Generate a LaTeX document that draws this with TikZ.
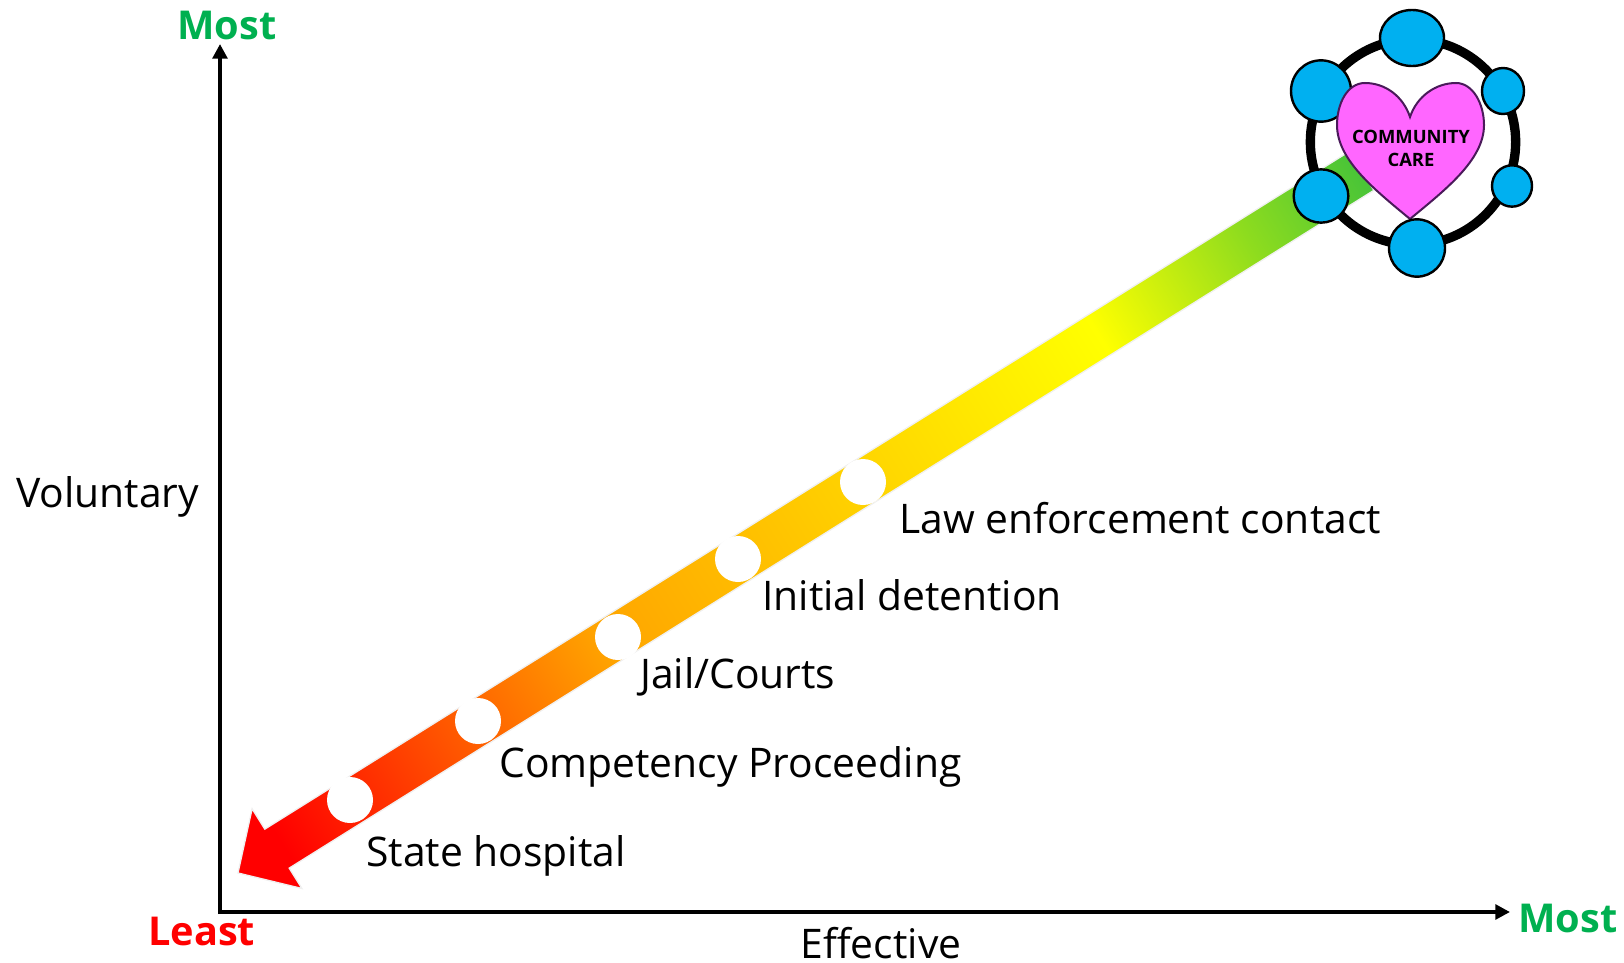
\documentclass[tikz,border=0pt]{standalone}
\usepackage{fontspec}
\setmainfont{Open Sans}
\usetikzlibrary{arrows.meta,shapes.geometric}
\definecolor{mostgreen}{HTML}{00B050}
\definecolor{dotblue}{HTML}{00B0F0}
\definecolor{heartpink}{HTML}{FF66FF}
\definecolor{heartedge}{HTML}{4A1A5A}
\definecolor{rampgold}{HTML}{FFA400}
\definecolor{rampa}{HTML}{8EDC1E}
\definecolor{rampb}{HTML}{48C438}
\pgfdeclarehorizontalshading{ramp}{100bp}{
  color(0bp)=(red);
  color(27bp)=(red);
  color(41.3bp)=(rampgold);
  color(63.3bp)=(yellow);
  color(70bp)=(rampa);
  color(75bp)=(rampb);
  color(100bp)=(rampb)}
\tikzset{
  lbl/.style={anchor=base west,inner sep=0pt,font=\fontsize{30.6}{36}\selectfont},
  endlbl/.style={anchor=base west,inner sep=0pt,font=\fontsize{29.8}{36}\selectfont\bfseries},
  axisline/.style={line width=3pt,-{Triangle[length=11pt,width=11pt]}},
  blob/.style={ellipse,draw=black,line width=1.8pt,fill=dotblue,inner sep=0pt},
  stopdot/.style={circle,fill=white,minimum size=34.5pt,inner sep=0pt}
}
\begin{document}
\begin{tikzpicture}[x=0.75pt,y=-0.75pt]
\useasboundingbox (0,0) rectangle (1624,963);
% axes
\coordinate (origin) at (220,912);
\coordinate (ytop) at (220,44);
\coordinate (xend) at (1510,912);
\draw[axisline] ([yshift=-1.5pt]origin) -- (ytop);
\draw[axisline] ([xshift=-1.5pt]origin) -- (xend);
% gradient arrow
\begin{scope}[transform canvas={shift={(238,873)},rotate=32}]
\shade[shading=ramp,draw=black!6,line width=1pt]
  (0,0) -- (46,47) -- (46,23) -- (1325,23) -- (1325,-23) -- (46,-23) -- (46,-47) -- cycle;
\end{scope}
% stops
\node[stopdot] (s1) at (350,800) {};
\node[stopdot] (s2) at (478,721) {};
\node[stopdot] (s3) at (618,637) {};
\node[stopdot] (s4) at (738,559) {};
\node[stopdot] (s5) at (863,482) {};
% labels
\node[lbl] (t1) at (366,866) {State hospital};
\node[lbl] (t2) at (499,777) {Competency Proceeding};
\node[lbl] (t3) at (640,688) {Jail/Courts};
\node[lbl] (t4) at (762,610) {Initial detention};
\node[lbl] (t5) at (899,533) {Law enforcement contact};
\node[lbl] (ylab) at (16,507) {Voluntary};
\node[lbl,anchor=base] (xlab) at (881,958) {Effective};
\node[endlbl,text=mostgreen] (ymost) at (177,40) {Most};
\node[endlbl,text=mostgreen] (xmost) at (1518,932) {Most};
\node[endlbl,text=red] (least) at (148,945) {Least};
% community ring
\node[circle,draw=black,line width=7pt,minimum size=154pt,inner sep=0pt] (ring) at (1413,142) {};
\node[blob,minimum width=48pt,minimum height=42pt] (b1) at (1412,38) {};
\node[blob,minimum width=45pt,minimum height=46pt] (b2) at (1321,91) {};
\node[blob,minimum width=31.5pt,minimum height=34.5pt] (b3) at (1503,91) {};
\node[blob,minimum width=30pt,minimum height=31pt] (b4) at (1512,186) {};
\node[blob,minimum width=41pt,minimum height=40pt] (b6) at (1321,196) {};
% heart
\draw[draw=heartedge,line width=1.5pt,fill=heartpink]
  (1410,117) .. controls (1403,96) and (1385,83) .. (1365,83)
  .. controls (1347,83) and (1337,104) .. (1337,125)
  .. controls (1337,160) and (1375,190) .. (1410,219)
  .. controls (1445,190) and (1484,160) .. (1484,125)
  .. controls (1484,104) and (1473,83) .. (1456,83)
  .. controls (1436,83) and (1417,96) .. (1410,117) -- cycle;
\node[blob,minimum width=42pt,minimum height=43pt] (b5) at (1417,248) {};
\node[anchor=base,inner sep=0pt,font=\fontsize{13.8}{16}\selectfont\bfseries] (c1) at (1411,144) {COMMUNITY};
\node[anchor=base,inner sep=0pt,font=\fontsize{13.8}{16}\selectfont\bfseries] (c2) at (1411,167) {CARE};
\end{tikzpicture}
\end{document}
